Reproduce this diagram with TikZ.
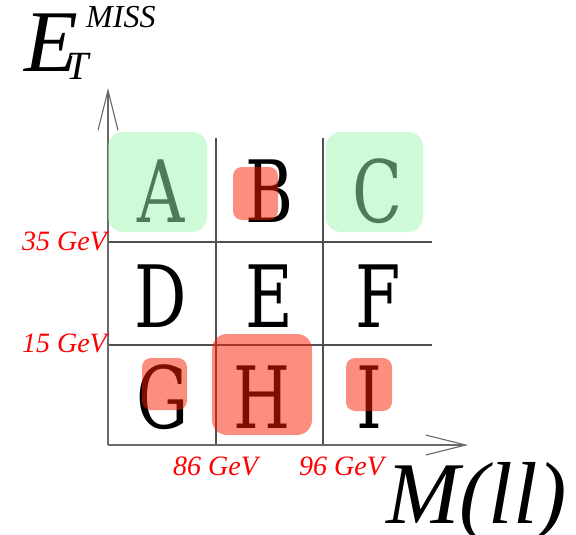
\documentclass[tikz,border=0pt]{standalone}
\usepackage{fontspec}
\setmainfont{Liberation Serif}
\newfontfamily\cellfont{DejaVu Serif}
\usetikzlibrary{arrows.meta}
\definecolor{axisgray}{RGB}{105,105,105}
\definecolor{gridgray}{RGB}{80,80,80}
\definecolor{goodgreen}{RGB}{160,245,175}
\definecolor{badred}{RGB}{250,30,0}
\definecolor{tickred}{RGB}{255,0,0}
\tikzset{
  axisline/.style={draw=axisgray, line width=1.3pt,
    -{Straight Barb[length=40pt,width=20pt,line width=1.1pt]}},
  gridline/.style={draw=gridgray, line width=1.2pt},
  cell/.style={anchor=base, inner sep=0pt, font=\cellfont\fontsize{86}{86}\selectfont},
  goodbox/.style={fill=goodgreen, fill opacity=0.5, rounded corners=15pt},
  badbox/.style={fill=badred, fill opacity=0.5, rounded corners=9pt},
  bigbad/.style={fill=badred, fill opacity=0.5, rounded corners=15pt},
  cutlabel/.style={text=tickred, inner sep=0pt, font=\itshape\fontsize{28}{28}\selectfont},
}
\newcommand{\narrow}[1]{\scalebox{0.76}[1]{#1}}
\begin{document}
\begin{tikzpicture}[x=1pt,y=-1pt]
\useasboundingbox (0,0) rectangle (576,535);
% corner points of the plane
\coordinate (origin) at (108,445);
\coordinate (ytip) at (108,88);
\coordinate (xtip) at (468,445);
% cut lines
\coordinate (v1top) at (216,138);
\coordinate (v1bot) at (216,445);
\coordinate (v2top) at (323,138);
\coordinate (v2bot) at (323,445);
\coordinate (h1left) at (108,242);
\coordinate (h1right) at (432,242);
\coordinate (h2left) at (108,345);
\coordinate (h2right) at (432,345);
\draw[gridline] (v1top) -- (v1bot);
\draw[gridline] (v2top) -- (v2bot);
\draw[gridline] (h1left) -- (h1right);
\draw[gridline] (h2left) -- (h2right);
% axes
\draw[axisline] (origin) -- (ytip);
\draw[axisline] (origin) -- (xtip);
% region letters
\node[cell] (A) at (161,222) {\narrow{A}};
\node[cell] (B) at (270,222) {\narrow{B}};
\node[cell] (C) at (378,222) {\narrow{C}};
\node[cell] (D) at (161,327) {\narrow{D}};
\node[cell] (E) at (269,327) {\narrow{E}};
\node[cell] (F) at (378,327) {\narrow{F}};
\node[cell] (G) at (163,428) {\narrow{G}};
\node[cell] (H) at (262,428) {\narrow{H}};
\node[cell] (I) at (369,428) {\narrow{I}};
% control (green) and signal (red) regions
\path[goodbox] (108,132) rectangle (207,232);
\path[goodbox] (326,132) rectangle (423,232);
\path[badbox] (233,167) rectangle (278,220);
\path[badbox] (142,358) rectangle (187,410);
\path[bigbad] (212,334) rectangle (312,435);
\path[badbox] (346,358) rectangle (392,411);
% cut values
\node[cutlabel, anchor=base east] (y35) at (107,250) {35 GeV};
\node[cutlabel, anchor=base east] (y15) at (107,352) {15 GeV};
\node[cutlabel, anchor=base west] (x86) at (173,475) {86 GeV};
\node[cutlabel, anchor=base west] (x96) at (299,475) {96 GeV};
% axis titles
\node[anchor=base west, inner sep=0pt, font=\itshape\fontsize{88}{88}\selectfont] (Elab) at (24,72) {E};
\node[anchor=base west, inner sep=0pt, font=\itshape\fontsize{40}{40}\selectfont] (Tlab) at (66,80) {T};
\node[anchor=base west, inner sep=0pt, font=\itshape\fontsize{32}{32}\selectfont] (Mlab) at (86,28) {MISS};
\node[anchor=base west, inner sep=0pt, font=\itshape\fontsize{88}{88}\selectfont] (Mll) at (386,523) {M(ll)};
\end{tikzpicture}
\end{document}
